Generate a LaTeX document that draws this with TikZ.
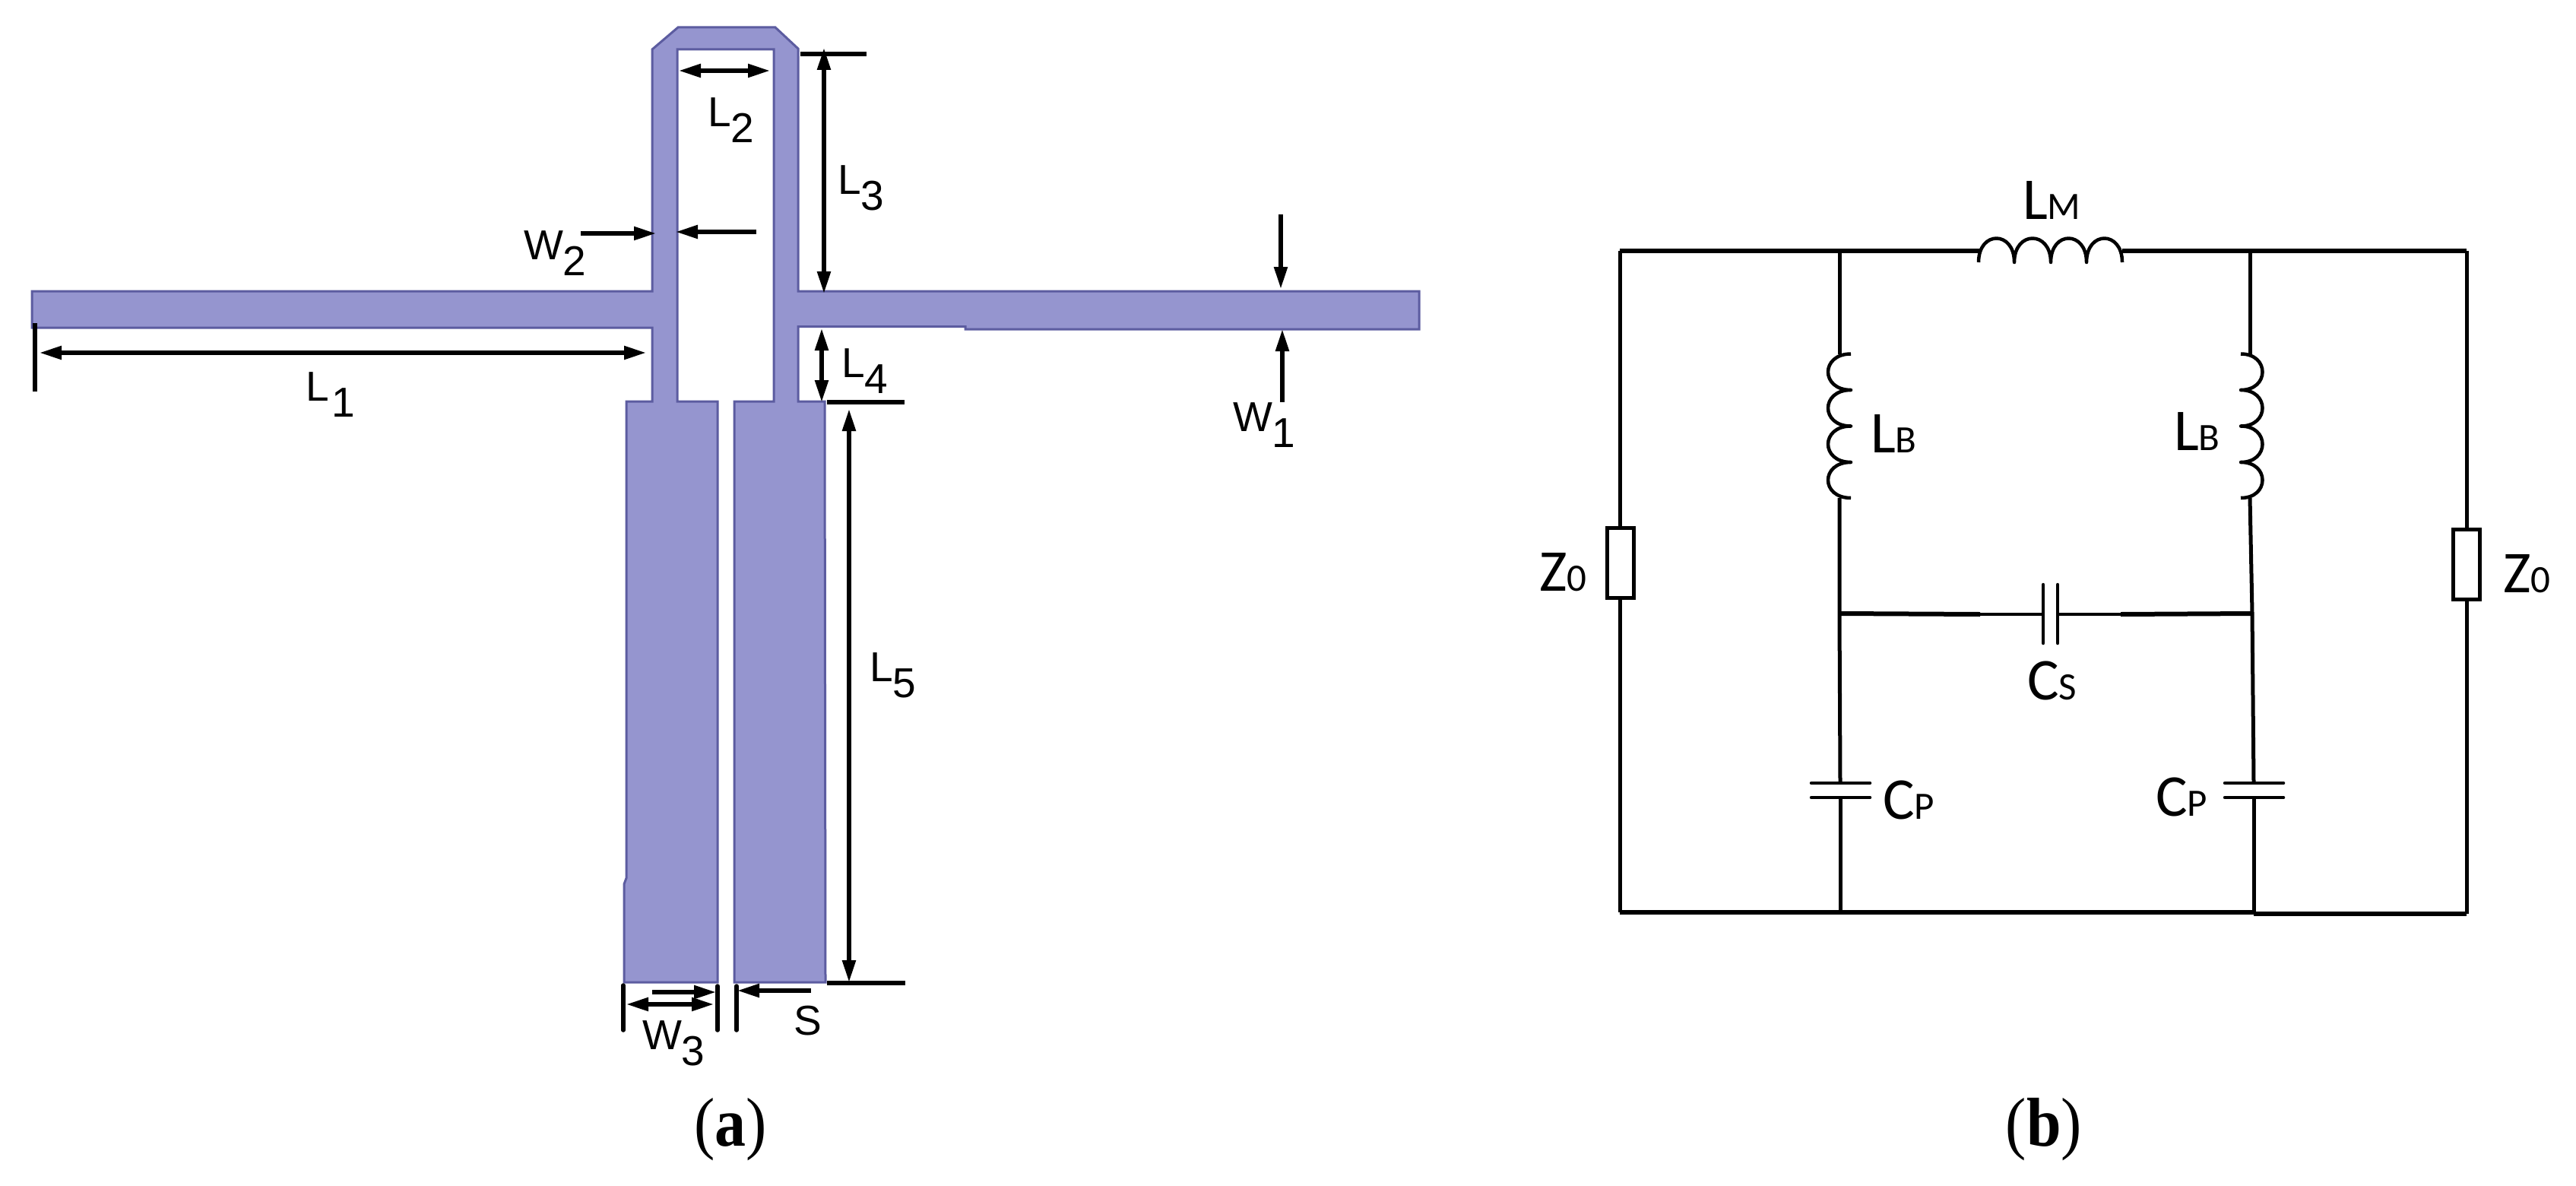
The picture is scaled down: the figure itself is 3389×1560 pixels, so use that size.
\documentclass[tikz,border=0pt]{standalone}
\usepackage{fontspec}
\usetikzlibrary{arrows.meta}
\setmainfont{Liberation Serif}
\newfontfamily\dimfont{Liberation Sans}
\newfontfamily\cirfont{Carlito}
\definecolor{strip}{RGB}{149,149,207}
\definecolor{stripedge}{RGB}{92,92,160}
\newcommand{\dimlab}[2]{{\dimfont\fontsize{55}{55}\selectfont #1\raisebox{-21.5pt}{#2}}}
\newcommand{\plainlab}[1]{{\dimfont\fontsize{55}{55}\selectfont #1}}
\newcommand{\cirlab}[2]{{\cirfont\fontsize{78}{78}\selectfont #1\fontsize{51}{51}\selectfont #2}}
\newcommand{\panel}[1]{\scalebox{0.9}[1]{\fontsize{91}{91}\selectfont (\textbf{#1})}}
\tikzset{
  lab/.style={anchor=base west,inner sep=0pt,outer sep=0pt,text=black},
  dimline/.style={line width=5.5pt,black},
  tick/.style={line width=5.5pt,black,line cap=round},
  twohead/.style={dimline,{Triangle[length=29pt,width=17pt]}-{Triangle[length=29pt,width=17pt]}},
  onehead/.style={dimline,-{Triangle[length=29pt,width=17pt]}},
  wire/.style={line width=5pt,black},
  hwire/.style={line width=6pt,black,line cap=square},
  thinwire/.style={line width=4pt,black},
  coil/.style={line width=4.5pt,black},
  plate/.style={line width=4.5pt,black,line cap=round},
  zbox/.style={draw=black,line width=4.5pt,fill=white,rectangle,minimum width=35pt,minimum height=92pt,inner sep=0pt,outer sep=0pt}
}
\begin{document}
\begin{tikzpicture}[x=1pt,y=-1pt]
\useasboundingbox (0,0) rectangle (3389,1560);
\fill[white] (0,0) rectangle (3389,1560);

% --- (a) layout ---
\draw[fill=strip,draw=stripedge,line width=3pt,line join=miter]
  (42,383) -- (858,383) -- (858,65) -- (892,36) -- (1020,36) -- (1050,64) -- (1050,383)
  -- (1867,383) -- (1867,433) -- (1270,433) -- (1270,429.5) -- (1050,429.5) -- (1050,528)
  -- (1085,528) -- (1086,1292) -- (966,1292) -- (966,528) -- (1018,528) -- (1018,65)
  -- (891,65) -- (891,528) -- (944,528) -- (944,1292) -- (821,1292) -- (821,1163)
  -- (824,1155) -- (824,528) -- (858,528) -- (858,431) -- (42,431) -- cycle;

% dimension end points
\coordinate (L1a) at (52,464);     \coordinate (L1b) at (850,464);
\coordinate (L1t1) at (46,425);    \coordinate (L1t2) at (46,515);
\coordinate (L2a) at (893,93);     \coordinate (L2b) at (1013,93);
\coordinate (L3a) at (1084,63);    \coordinate (L3b) at (1084,386);
\coordinate (L3t1) at (1053,71);   \coordinate (L3t2) at (1140,71);
\coordinate (L4a) at (1081,432);   \coordinate (L4b) at (1081,529);
\coordinate (L4t1) at (1088,529);  \coordinate (L4t2) at (1190,529);
\coordinate (L5a) at (1117,538);   \coordinate (L5b) at (1117,1292);
\coordinate (L5t1) at (1088,1293); \coordinate (L5t2) at (1191,1293);
\coordinate (W1a) at (1685,282);   \coordinate (W1b) at (1685,380);
\coordinate (W1c) at (1687,529);   \coordinate (W1d) at (1687,433);
\coordinate (W2a) at (764,307);    \coordinate (W2b) at (863,307);
\coordinate (W2c) at (995,305);    \coordinate (W2d) at (889,305);
\coordinate (W3a) at (824,1321);   \coordinate (W3b) at (939,1321);
\coordinate (W3c) at (858,1305);   \coordinate (W3d) at (942,1305);
\coordinate (Sa) at (1067,1303);   \coordinate (Sb) at (970,1303);
\coordinate (T1a) at (820,1296);   \coordinate (T1b) at (820,1355);
\coordinate (T2a) at (944,1297);   \coordinate (T2b) at (944,1355);
\coordinate (T3a) at (969,1297);   \coordinate (T3b) at (969,1355);

\draw[twohead] (L1a) -- (L1b);
\draw[dimline] (L1t1) -- (L1t2);
\draw[twohead] (L2a) -- (L2b);
\draw[twohead] (L3a) -- (L3b);
\draw[dimline] (L3t1) -- (L3t2);
\draw[twohead] (L4a) -- (L4b);
\draw[dimline] (L4t1) -- (L4t2);
\draw[twohead] (L5a) -- (L5b);
\draw[dimline] (L5t1) -- (L5t2);
\draw[onehead] (W1a) -- (W1b);
\draw[onehead] (W1c) -- (W1d);
\draw[onehead] (W2a) -- (W2b);
\draw[onehead] (W2c) -- (W2d);
\draw[twohead] (W3a) -- (W3b);
\draw[onehead] (W3c) -- (W3d);
\draw[onehead] (Sa) -- (Sb);
\draw[tick] (T1a) -- (T1b);
\draw[tick] (T2a) -- (T2b);
\draw[tick] (T3a) -- (T3b);

\node[lab] (tL1) at (402,527) {\dimlab{L}{\kern4pt 1}};
\node[lab] (tL2) at (931,166) {\dimlab{L}{2}};
\node[lab] (tL3) at (1102,255) {\dimlab{L}{3}};
\node[lab] (tL4) at (1107,496) {\dimlab{L}{4}};
\node[lab] (tL5) at (1144,896) {\dimlab{L}{5}};
\node[lab] (tW1) at (1622,567) {\dimlab{W}{1}};
\node[lab] (tW2) at (689,341) {\dimlab{W}{2}};
\node[lab] (tW3) at (845,1380) {\dimlab{W}{3}};
\node[lab] (tS) at (1044,1361) {\plainlab{S}};
\node[anchor=base,inner sep=0pt] (capa) at (961,1507) {\panel{a}};

% --- (b) circuit ---
\coordinate (TL) at (2131,330);  \coordinate (TR) at (3245,330);
\coordinate (BL) at (2131,1200); \coordinate (BR) at (3245,1202);
\coordinate (A1) at (2420,330);  \coordinate (B1) at (2960,330);
\coordinate (A2) at (2420,465.5);\coordinate (B2) at (2960,465.5);
\coordinate (A3) at (2420,655);  \coordinate (B3) at (2960,655);
\coordinate (A4) at (2420,807);  \coordinate (B4) at (2963,807);
\coordinate (A5) at (2421,1030); \coordinate (B5) at (2965,1030);
\coordinate (A6) at (2421,1049); \coordinate (B6) at (2965,1049);
\coordinate (A7) at (2421,1200); \coordinate (B7) at (2965,1200);
\coordinate (B8) at (2965,1202);
\coordinate (M1) at (2604,330);  \coordinate (M2) at (2792,330);
\coordinate (S1) at (2688,808);  \coordinate (S2) at (2707,808);
\coordinate (S1m) at (2605,808); \coordinate (S2m) at (2790,808);

\node[zbox] (Zl) at (2132,740.5) {};
\node[zbox] (Zr) at (3245,742.5) {};

\draw[hwire] (TL) -- (M1);
\draw[hwire] (M2) -- (TR);
\draw[wire] (TL) -- (TL |- Zl.north);
\draw[wire] (TL |- Zl.south) -- (BL);
\draw[wire] (TR) -- (Zr.north);
\draw[wire] (Zr.south) -- (BR);
\draw[hwire] (BL) -- (B7);
\draw[hwire] (B8) -- (BR);

\draw[wire] (A1) -- (A2);
\draw[wire] (B1) -- (B2);
\draw[wire] (A3) -- (A4) -- (A5);
\draw[wire] (B3) -- (B4) -- (B5);
\draw[wire] (A6) -- (A7);
\draw[wire] (B6) -- (B7);

% series capacitor
\draw[line width=6pt] (A4) -- (S1m);
\draw[thinwire] (S1m) -- (S1);
\draw[thinwire] (S2) -- (S2m);
\draw[line width=6pt] (S2m) -- (B4);
\draw[plate] (2688,769) -- (2688,846);
\draw[plate] (2707,769) -- (2707,846);

% shunt capacitors
\draw[plate] (2383,1030) -- (2460,1030);
\draw[plate] (2383,1049) -- (2460,1049);
\draw[plate] (2927,1030) -- (3004,1030);
\draw[plate] (2927,1049) -- (3004,1049);

% series inductor
\draw[coil,line join=round] (2603,345)
  .. controls (2603,303) and (2650,303) .. (2650,345)
  .. controls (2650,303) and (2698,303) .. (2698,345)
  .. controls (2698,303) and (2745,303) .. (2745,345)
  .. controls (2745,303) and (2792,303) .. (2792,345);

% shunt inductors
\draw[coil,line join=round] (2435,465.5)
  .. controls (2395,465.5) and (2395,513) .. (2435,513)
  .. controls (2395,513) and (2395,560.5) .. (2435,560.5)
  .. controls (2395,560.5) and (2395,608) .. (2435,608)
  .. controls (2395,608) and (2395,655) .. (2435,655);
\draw[coil,line join=round] (2948,465.5)
  .. controls (2986,465.5) and (2986,513) .. (2948,513)
  .. controls (2986,513) and (2986,560.5) .. (2948,560.5)
  .. controls (2986,560.5) and (2986,608) .. (2948,608)
  .. controls (2986,608) and (2986,655) .. (2948,655);

\node[lab] (tLM) at (2661,288) {\cirlab{L}{M}};
\node[lab] (tLBl) at (2461,595) {\cirlab{L}{B}};
\node[lab] (tLBr) at (2860,592) {\cirlab{L}{B}};
\node[lab] (tZl) at (2025,777) {\cirlab{Z}{0}};
\node[lab] (tZr) at (3293,779) {\cirlab{Z}{0}};
\node[lab] (tCs) at (2667,920) {\cirlab{C}{S}};
\node[lab] (tCpl) at (2477,1077) {\cirlab{C}{P}};
\node[lab] (tCpr) at (2836,1073) {\cirlab{C}{P}};
\node[anchor=base,inner sep=0pt] (capb) at (2689,1507) {\panel{b}};
\end{tikzpicture}
\end{document}
